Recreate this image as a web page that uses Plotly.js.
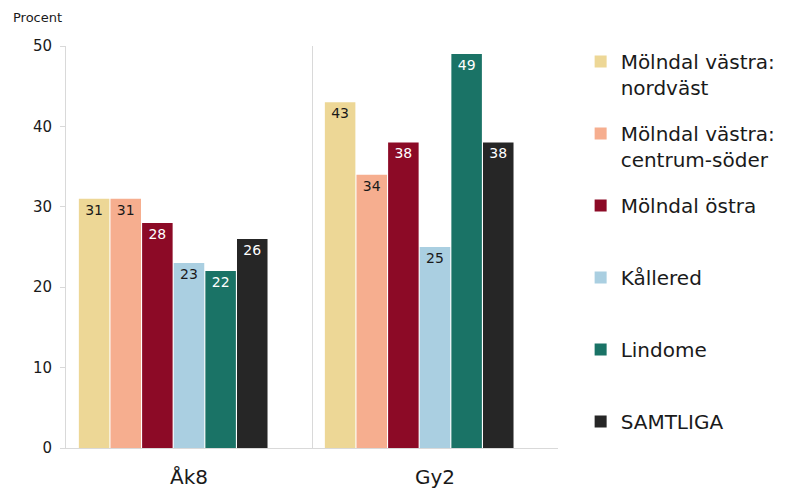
<!DOCTYPE html>
<html>
<head>
<meta charset="utf-8">
<script src="https://cdn.plot.ly/plotly-3.0.1.min.js"></script>
<style>html,body{margin:0;padding:0;background:#fff;}#chart{width:791px;height:489px;}</style>
</head>
<body>
<div id="chart"></div>
<script>
const categories = ["Åk8", "Gy2"];
const seriesNames = [
  "Mölndal västra:<br>nordväst",
  "Mölndal västra:<br>centrum-söder",
  "Mölndal östra<br>\u00a0",
  "Kållered<br>\u00a0",
  "Lindome<br>\u00a0",
  "SAMTLIGA<br>\u00a0"
];
const nordvast = [31, 43];
const centrumSoder = [31, 34];
const ostra = [28, 38];
const kallered = [23, 25];
const lindome = [22, 49];
const samtliga = [26, 38];
const seriesValues = [nordvast, centrumSoder, ostra, kallered, lindome, samtliga];
const seriesColors = ["#EDD796", "#F6AE8F", "#8C0A26", "#AACFE1", "#1A7366", "#262626"];
const labelColors = ["#1a1a1a", "#1a1a1a", "#ffffff", "#1a1a1a", "#ffffff", "#ffffff"];
const yTicks = [0, 10, 20, 30, 40, 50];

const FONT = "DejaVu Sans, Verdana, sans-serif";

const traces = seriesValues.map((vals, i) => ({
  type: "bar",
  name: seriesNames[i],
  x: categories,
  y: vals,
  legendgroup: "g" + i,
  marker: { color: seriesColors[i], line: { width: 0 } },
  text: vals.map(String),
  textposition: "inside",
  insidetextanchor: "end",
  textangle: 0,
  constraintext: "none",
  textfont: { family: FONT, size: 14, color: labelColors[i] },
  hoverinfo: "x+y+name"
}));
// empty spacer series (Excel-style empty slot at group end)
traces.push({
  type: "bar", name: "", x: categories, y: [null, null],
  showlegend: false, hoverinfo: "skip", marker: { color: "rgba(0,0,0,0)" }
});

const layout = {
  width: 791, height: 489,
  margin: { l: 66, r: 233, t: 46, b: 41, autoexpand: false },
  paper_bgcolor: "#ffffff", plot_bgcolor: "#ffffff",
  font: { family: FONT, color: "#1a1a1a" },
  barmode: "group",
  bargap: 0.1,
  bargroupgap: 0.035,
  showlegend: true,
  legend: {
    x: 1.046, xanchor: "left", y: 1.01, yanchor: "top",
    maxheight: 1000,
    font: { family: FONT, size: 20, color: "#1a1a1a" },
    traceorder: "grouped",
    tracegroupgap: 17,
    valign: "top",
    bgcolor: "rgba(0,0,0,0)"
  },
  xaxis: {
    type: "category",
    tickson: "boundaries",
    showgrid: true, gridcolor: "#d9d9d9", gridwidth: 1,
    showline: true, linecolor: "#d9d9d9", linewidth: 1,
    ticks: "",
    tickfont: { family: FONT, size: 20, color: "#1a1a1a" },
    ticklabelstandoff: 11,
    zeroline: false
  },
  yaxis: {
    range: [0, 50],
    tickvals: yTicks,
    ticktext: yTicks.map(String),
    showgrid: false,
    zeroline: false,
    showline: true, linecolor: "#d9d9d9", linewidth: 1,
    ticks: "outside", ticklen: 5, tickcolor: "#d9d9d9",
    tickfont: { family: FONT, size: 15, color: "#1a1a1a" },
    ticklabelstandoff: 5
  },
  annotations: [{
    text: "Procent", xref: "paper", yref: "paper",
    x: -0.112, y: 1.072, xanchor: "left", yanchor: "middle",
    showarrow: false,
    font: { family: FONT, size: 13, color: "#1a1a1a" }
  }]
};

Plotly.newPlot("chart", traces, layout, { staticPlot: true, displayModeBar: false });
</script>
</body>
</html>
